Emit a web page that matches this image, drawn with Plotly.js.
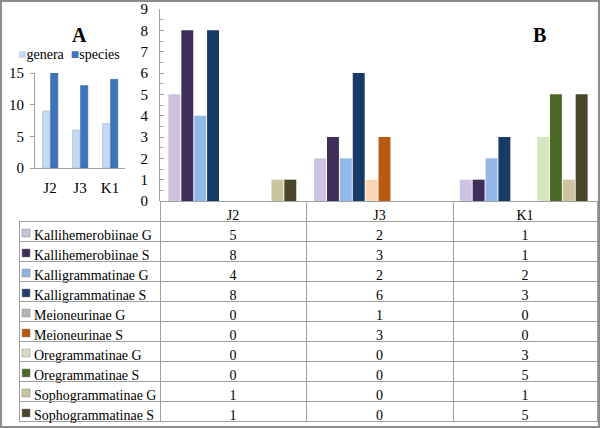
<!DOCTYPE html>
<html><head><meta charset="utf-8">
<script src="https://cdn.plot.ly/plotly-3.0.1.min.js"></script>
<style>html,body{margin:0;padding:0;background:#fff}#chart{width:600px;height:428px}</style>
</head><body><div id="chart"></div>
<script>
// ---- data ----
const periods = ['J2', 'J3', 'K1'];
// Panel A totals
const generaTotals = [9, 6, 7];
const speciesTotals = [15, 13, 14];
// Panel B series (values per period J2, J3, K1)
const seriesNames = [
  'Kallihemerobiinae G', 'Kallihemerobiinae S',
  'Kalligrammatinae G', 'Kalligrammatinae S',
  'Meioneurinae G', 'Meioneurinae S',
  'Oregrammatinae G', 'Oregrammatinae S',
  'Sophogrammatinae G', 'Sophogrammatinae S'
];
const kallihemerobiinaeG = [5, 2, 1];
const kallihemerobiinaeS = [8, 3, 1];
const kalligrammatinaeG = [4, 2, 2];
const kalligrammatinaeS = [8, 6, 3];
const meioneurinaeG = [0, 1, 0];
const meioneurinaeS = [0, 3, 0];
const oregrammatinaeG = [0, 0, 3];
const oregrammatinaeS = [0, 0, 5];
const sophogrammatinaeG = [1, 0, 1];
const sophogrammatinaeS = [1, 0, 5];
const yTicksB = [0, 1, 2, 3, 4, 5, 6, 7, 8, 9];
const yTicksA = [0, 5, 10, 15];

// ---- styles ----
const seriesValues = [kallihemerobiinaeG, kallihemerobiinaeS, kalligrammatinaeG, kalligrammatinaeS,
  meioneurinaeG, meioneurinaeS, oregrammatinaeG, oregrammatinaeS, sophogrammatinaeG, sophogrammatinaeS];
const seriesColors = ['#cdc3e0', '#3f2d5a', '#93b8e8', '#173a66', '#fbd5b5',
  '#b85a12', '#d8e6c0', '#4c6a26', '#cbc49e', '#4a4628'];
const keyColors = ['#c9c2d9', '#3f2d5a', '#8fb4e3', '#1f3f6a', '#b5b5b5',
  '#b85a12', '#d3dfc0', '#4c6a26', '#cbc49e', '#4a4628'];
const generaColor = '#c6d9f1', speciesColor = '#3f74bd';
const FONT = 'Liberation Serif, Times New Roman, serif';
const GRAY = '#a0a0a0';
const W = 600, H = 428;
const px = x => x / W, py = y => 1 - y / H;
const nb = s => s.replace(/ /g, '\u00a0');

const traces = [];
// Panel A
traces.push({type: 'bar', x: periods, y: generaTotals, xaxis: 'x', yaxis: 'y', name: 'genera',
  width: 0.24, offset: -0.25, marker: {color: generaColor, line: {color: '#9fb5d6', width: 0.6}}, showlegend: false, hoverinfo: 'skip'});
traces.push({type: 'bar', x: periods, y: speciesTotals, xaxis: 'x', yaxis: 'y', name: 'species',
  width: 0.24, offset: 0.02, marker: {color: speciesColor, line: {color: '#2f5f9e', width: 0.6}}, showlegend: false, hoverinfo: 'skip'});
// Panel B
const slot = 0.0884, bw = 0.082, start = -0.442;
seriesNames.forEach((n, i) => {
  traces.push({type: 'bar', x: periods, y: seriesValues[i], xaxis: 'x2', yaxis: 'y2', name: n,
    width: bw, offset: start + i * slot, marker: {color: seriesColors[i], line: {width: 0}}, showlegend: false, hoverinfo: 'skip'});
});
// Legend keys of the data table (small squares in first column)
traces.push({type: 'scatter', mode: 'markers', x: seriesNames.map(() => 'key'), y: seriesNames,
  xaxis: 'x3', yaxis: 'y3', marker: {symbol: 'square', size: 8, color: keyColors, line: {color: '#888', width: 0.5}},
  showlegend: false, hoverinfo: 'skip', cliponaxis: false});
// Table (data table under panel B)
const labelCells = seriesNames.map(n => nb('  ' + n));
const periodCols = periods.map((p, j) => seriesValues.map(v => String(v[j])));
traces.push({
  type: 'table',
  domain: {x: [px(19), px(597)], y: [py(425), py(201)]},
  columnwidth: [141, 146, 147, 144],
  header: {values: [''].concat(periods), height: 20, align: 'center',
    font: {family: FONT, size: 14, color: '#000'}, fill: {color: 'rgba(0,0,0,0)'},
    line: {color: ['rgba(0,0,0,0)', GRAY, GRAY, GRAY], width: 1}},
  cells: {values: [labelCells].concat(periodCols), height: 20,
    align: ['left', 'center', 'center', 'center'],
    font: {family: FONT, size: 14, color: '#000'}, fill: {color: 'rgba(0,0,0,0)'},
    line: {color: GRAY, width: 1}}
});

const layout = {
  width: W, height: H, margin: {l: 0, r: 0, t: 0, b: 0},
  paper_bgcolor: '#fff', plot_bgcolor: 'rgba(0,0,0,0)', showlegend: false,
  font: {family: FONT, size: 14, color: '#000'},
  barmode: 'group',
  xaxis: {domain: [px(35), px(125)], anchor: 'y', type: 'category', showline: true, linecolor: GRAY,
    ticks: '', ticklabelstandoff: 6, tickfont: {family: FONT, size: 15, color: '#000'}, showgrid: false, zeroline: false},
  yaxis: {domain: [py(168), py(73)], anchor: 'x', range: [0, 15], tickvals: yTicksA, showline: true, linecolor: GRAY,
    ticks: 'outside', ticklen: 4, tickcolor: GRAY, showgrid: false, zeroline: false, ticklabelstandoff: 3,
    tickfont: {family: FONT, size: 15, color: '#000'}},
  xaxis2: {domain: [px(160), px(597)], anchor: 'y2', type: 'category', showline: false, ticks: '',
    showticklabels: false, showgrid: false, zeroline: false},
  yaxis2: {domain: [py(201), py(9)], anchor: 'x2', range: [0, 9], tickvals: yTicksB, showline: true, linecolor: GRAY,
    ticks: 'inside', ticklen: 4, tickcolor: GRAY, showgrid: false, zeroline: false,
    minor: {dtick: 0.5, ticks: 'inside', ticklen: 3, tickcolor: GRAY},
    ticklabelstandoff: 8, tickfont: {family: FONT, size: 15, color: '#000'}},
  xaxis3: {domain: [px(19), px(160)], anchor: 'y3', type: 'category', range: [-0.05, 0.95], visible: false},
  yaxis3: {domain: [py(423), py(223)], anchor: 'x3', type: 'category', range: [9.5, -0.5], visible: false},
  annotations: [
    {xref: 'paper', yref: 'paper', x: px(70), y: py(22), text: '<b>A</b>', showarrow: false,
      font: {family: FONT, size: 20, color: '#000'}},
    {xref: 'paper', yref: 'paper', x: px(548), y: py(22), text: '<b>B</b>', showarrow: false,
      font: {family: FONT, size: 20, color: '#000'}},
    {xref: 'paper', yref: 'paper', x: px(16), y: py(45), xanchor: 'left', showarrow: false,
      text: `<span style="color:${generaColor}">■</span>genera  <span style="color:${speciesColor}">■</span>species`,
      font: {family: FONT, size: 14, color: '#000'}}
  ],
  shapes: [
    {type: 'rect', xref: 'paper', yref: 'paper', x0: px(1), x1: px(599), y0: py(427), y1: py(1),
      line: {color: '#8c8c8c', width: 2}}
  ]
};
Plotly.newPlot('chart', traces, layout, {staticPlot: true, displayModeBar: false});
</script></body></html>
